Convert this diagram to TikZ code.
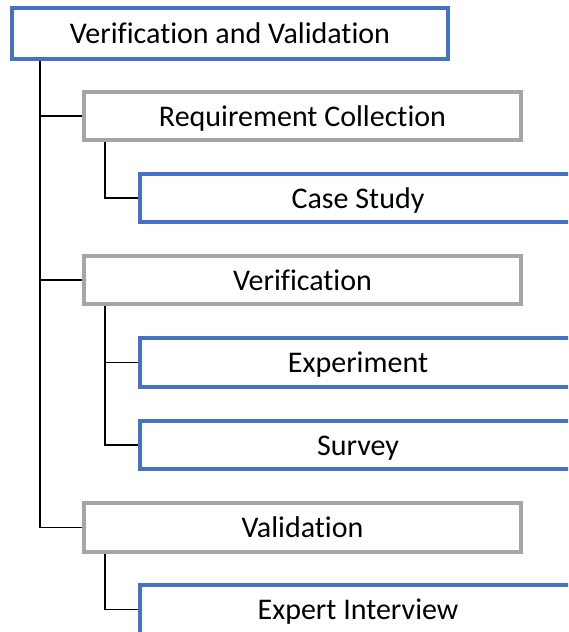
\documentclass[tikz,border=0pt]{standalone}
\usepackage{fontspec}
\setmainfont{Carlito}[RawFeature={-liga;-clig;-calt;-dlig}]
\definecolor{boxblue}{HTML}{4472C4}
\definecolor{boxgray}{HTML}{A5A5A5}
\begin{document}
\begin{tikzpicture}[x=1pt,y=-1pt,
  basebox/.style={rectangle, fill=white, line width=4pt, inner sep=0pt,
    font=\fontsize{30}{35}\selectfont, text=black, text height=24pt, text depth=4pt},
  bluebox/.style={basebox, draw=boxblue, minimum width=436pt},
  graybox/.style={basebox, draw=boxgray, minimum width=437pt, minimum height=48pt},
  link/.style={draw=black, line width=1.8pt}]
\useasboundingbox (0,0) rectangle (568,632);
\clip (0,0) rectangle (568,632);
\node[bluebox, minimum height=51pt] (top) at (230,33.5) {Verification and Validation};
\node[graybox] (rc) at (302.5,116) {Requirement Collection};
\node[bluebox, minimum height=48pt] (cs) at (358,198) {Case Study};
\node[graybox] (ver) at (302.5,280) {Verification};
\node[bluebox, minimum height=49pt] (exp) at (358,362.5) {Experiment};
\node[bluebox, minimum height=48pt] (sur) at (358,445) {Survey};
\node[graybox, minimum height=49pt] (val) at (302.5,527.5) {Validation};
\node[bluebox, minimum height=49pt] (ei) at (358,609.5) {Expert Interview};
\draw[link] ([xshift=30pt]top.south west) |- (val.west);
\draw[link] ([xshift=30pt]top.south west) |- (rc.west);
\draw[link] ([xshift=30pt]top.south west) |- (ver.west);
\draw[link] ([xshift=23pt]rc.south west) |- (cs.west);
\draw[link] ([xshift=23pt]ver.south west) |- (sur.west);
\draw[link] ([xshift=23pt]ver.south west) |- (exp.west);
\draw[link] ([xshift=23pt]val.south west) |- (ei.west);
\end{tikzpicture}
\end{document}
